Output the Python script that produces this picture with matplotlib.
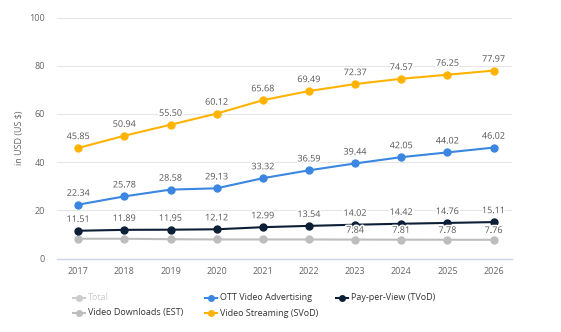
import matplotlib
matplotlib.use("Agg")
import matplotlib.pyplot as plt
from matplotlib.lines import Line2D
import matplotlib.patheffects as pe

years = [2017, 2018, 2019, 2020, 2021, 2022, 2023, 2024, 2025, 2026]
video_streaming = [45.85, 50.94, 55.50, 60.12, 65.68, 69.49, 72.37, 74.57, 76.25, 77.97]
ott_advertising = [22.34, 25.78, 28.58, 29.13, 33.32, 36.59, 39.44, 42.05, 44.02, 46.02]
pay_per_view = [11.51, 11.89, 11.95, 12.12, 12.99, 13.54, 14.02, 14.42, 14.76, 15.11]
video_downloads = [8.2, 8.2, 8.0, 7.9, 7.9, 7.9, 7.84, 7.81, 7.78, 7.76]
downloads_labelled = [False, False, False, False, False, False, True, True, True, True]
y_ticks = [0, 20, 40, 60, 80, 100]

c_stream = "#ffb300"
c_ott = "#3a86e0"
c_ppv = "#0d1f36"
c_dl = "#bdbdbd"
c_total = "#cccccc"
txt = "#555555"

plt.rcParams["font.family"] = ["Open Sans", "DejaVu Sans"]

fig = plt.figure(figsize=(5.61, 3.32), dpi=100)
ax = fig.add_axes([57 / 561, 1 - 258.5 / 332, (512 - 57) / 561, (258.5 - 17.5) / 332])

ax.set_ylim(0, 100)
ax.set_xlim(2017 - 0.46, 2026 + 0.4)
ax.set_yticks(y_ticks)
ax.set_xticks(years)
ax.grid(axis="y", color="#e6e6e6", linewidth=0.8)
ax.set_axisbelow(True)
for s in ["top", "right", "left"]:
    ax.spines[s].set_visible(False)
ax.spines["bottom"].set_color("#ccd6eb")
ax.spines["bottom"].set_linewidth(1.0)
ax.tick_params(axis="both", length=0, labelsize=6.5, colors="#666666")
ax.tick_params(axis="x", pad=6)
ax.tick_params(axis="y", pad=8.5)
ax.set_ylabel("in USD (US $)", fontsize=6.5, color="#666666", labelpad=4)

series = [
    (video_downloads, c_dl, downloads_labelled, 3.5),
    (pay_per_view, c_ppv, [True] * 10, 5),
    (ott_advertising, c_ott, [True] * 10, 5),
    (video_streaming, c_stream, [True] * 10, 5),
]
halo = [pe.withStroke(linewidth=2.5, foreground="white")]
for vals, col, show, off in series:
    ax.plot(years, vals, color=col, linewidth=1.5, marker="o", markersize=5, zorder=3)
    for x, v, s in zip(years, vals, show):
        if s:
            ax.annotate(f"{v:.2f}", (x, v), xytext=(0, off), textcoords="offset points",
                        ha="center", va="bottom", fontsize=6.5, color=txt, zorder=5,
                        path_effects=halo)

# legend drawn as figure-level items
legend_items = [
    ("Total", c_total, c_total, 73, 298),
    ("Video Downloads (EST)", c_dl, "#333333", 73, 313),
    ("OTT Video Advertising", c_ott, "#333333", 205, 298),
    ("Video Streaming (SVoD)", c_stream, "#333333", 205, 313),
    ("Pay-per-View (TVoD)", c_ppv, "#333333", 336, 298),
]
for label, col, tcol, px, py in legend_items:
    yf = 1 - py / 332
    fig.add_artist(Line2D([px / 561, (px + 12) / 561], [yf, yf], color=col, linewidth=1.5,
                          transform=fig.transFigure))
    fig.add_artist(Line2D([(px + 6) / 561], [yf], color=col, marker="o", markersize=4,
                          transform=fig.transFigure))
    fig.text((px + 15) / 561, yf, label, fontsize=6.5, color=tcol, va="center", ha="left")

fig.savefig("out.png", dpi=100, facecolor="white")
